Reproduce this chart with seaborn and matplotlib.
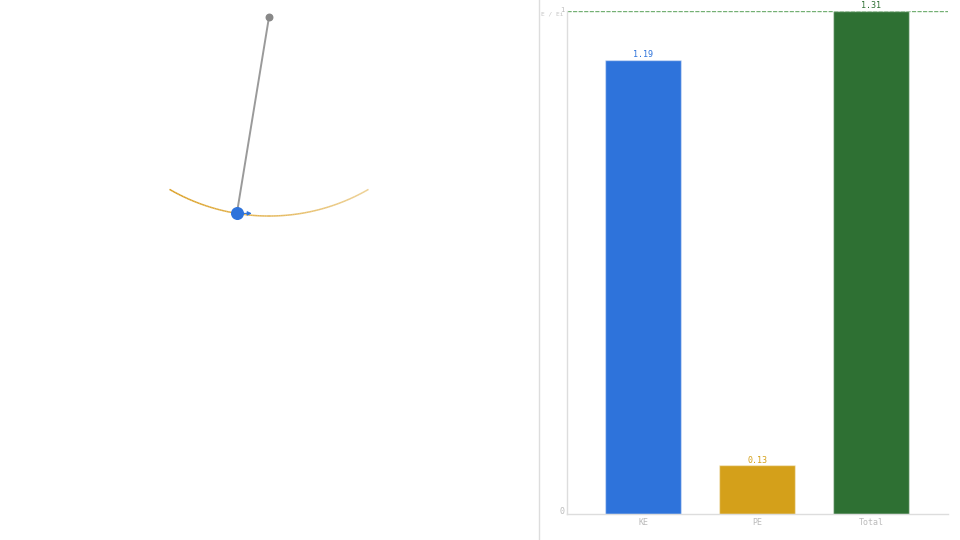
"""
Péndulo simple y barras de energía normalizada
"""

import numpy as np
import pandas as pd
import matplotlib
matplotlib.use('Agg')
import matplotlib.pyplot as plt
import matplotlib.transforms as mtransforms
from matplotlib.collections import LineCollection
import seaborn as sns

# Datos de energía
categories = ['KE', 'PE', 'Total']
energy_values = [1.186, 0.127, 1.313]
initial_energy = 1.313
bar_colors = ['#2e73db', '#d4a01a', '#2e7033']
ytick_values = [0, 1]
ytick_labels = ['0', '1']

# Estado del péndulo (grados, longitud = 1)
bob_angle_deg = -9.3
amplitude_deg = 30.0
velocity_arrow = 0.075

sns.set_theme(style='white')
plt.rcParams['font.family'] = ['DejaVu Sans Mono']

fig = plt.figure(figsize=(9.6, 5.4), dpi=100)

# ---------- Panel izquierdo: péndulo ----------
ax_p = fig.add_axes([0, 0, 539 / 960, 1])
ax_p.set_xlim(-1.352, 1.357)
ax_p.set_ylim(-2.628, 0.0854)
ax_p.set_aspect('equal')
ax_p.set_xticks([])
ax_p.set_yticks([])
for side in ['left', 'top', 'bottom']:
    ax_p.spines[side].set_visible(False)
ax_p.spines['right'].set_color('#dddddd')
ax_p.spines['right'].set_linewidth(1)

# Trayectoria (arco), más intensa a la izquierda
phi = np.radians(np.linspace(-amplitude_deg, amplitude_deg, 120))
ax_arc = np.sin(phi)
ay_arc = -np.cos(phi)
pts = np.column_stack([ax_arc, ay_arc]).reshape(-1, 1, 2)
segs = np.concatenate([pts[:-1], pts[1:]], axis=1)
alphas = np.linspace(0.95, 0.45, len(segs))
seg_colors = [(0.85, 0.6, 0.08, a) for a in alphas]
ax_p.add_collection(LineCollection(segs, colors=seg_colors, linewidths=1.1, zorder=1))

theta = np.radians(bob_angle_deg)
bx, by = np.sin(theta), -np.cos(theta)
ax_p.plot([0, bx], [0, by], color='#9a9a9a', lw=1.4, zorder=2)
ax_p.scatter([0], [0], s=22, color='#888888', zorder=3)
ax_p.annotate('', xy=(bx + velocity_arrow, by), xytext=(bx, by),
              arrowprops=dict(arrowstyle='-|>', color='#2e73db', lw=0.8,
                              mutation_scale=6, shrinkA=0, shrinkB=0),
              zorder=3)
ax_p.scatter([bx], [by], s=70, color='#2e73db', zorder=4)

# ---------- Panel derecho: barras de energía ----------
ax_b = fig.add_axes([567 / 960, 26 / 540, 381 / 960, 503 / 540])
df = pd.DataFrame({
    'categoria': categories,
    'valor': energy_values,
    'normalizado': [v / initial_energy for v in energy_values],
})
sns.barplot(data=df, x='categoria', y='normalizado', hue='categoria',
            palette=bar_colors, saturation=1, width=0.667, legend=False,
            ax=ax_b, edgecolor=(1, 1, 1, 0.45), linewidth=1)

for i, (val, norm) in enumerate(zip(df['valor'], df['normalizado'])):
    ax_b.text(i, norm + 0.001, f'{val:.2f}', ha='center', va='bottom',
              fontsize=6, color=bar_colors[i])

ax_b.axhline(1, color='#74b074', lw=1, ls=(0, (3, 1)), zorder=0)
ax_b.set_xlim(-0.667, 2.675)
ax_b.set_ylim(0, 1)
ax_b.set_yticks(ytick_values)
ax_b.set_yticklabels(ytick_labels)
ax_b.set_xlabel('')
ax_b.set_ylabel('')
ax_b.tick_params(axis='both', labelsize=6, colors='#bbbbbb', length=0, pad=3)
ax_b.tick_params(axis='y', pad=2)
for side in ['top', 'right']:
    ax_b.spines[side].set_visible(False)
for side in ['left', 'bottom']:
    ax_b.spines[side].set_color('#dddddd')
    ax_b.spines[side].set_linewidth(1)
ax_b.grid(False)

# subir un poco las etiquetas del eje y
ylabels = ax_b.get_yticklabels()
ylabels[0].set_transform(ylabels[0].get_transform() +
                         mtransforms.ScaledTranslation(0, 3 / 100, fig.dpi_scale_trans))
ylabels[1].set_fontsize(5)
ylabels[1].set_transform(ylabels[1].get_transform() +
                         mtransforms.ScaledTranslation(0, 2 / 100, fig.dpi_scale_trans))

fig.text(541 / 960, 1 - 14 / 540, 'E / Ei', fontsize=4.4, color='#c4c4c4',
         ha='left', va='center')

fig.savefig('out.png', dpi=100, facecolor='white')
